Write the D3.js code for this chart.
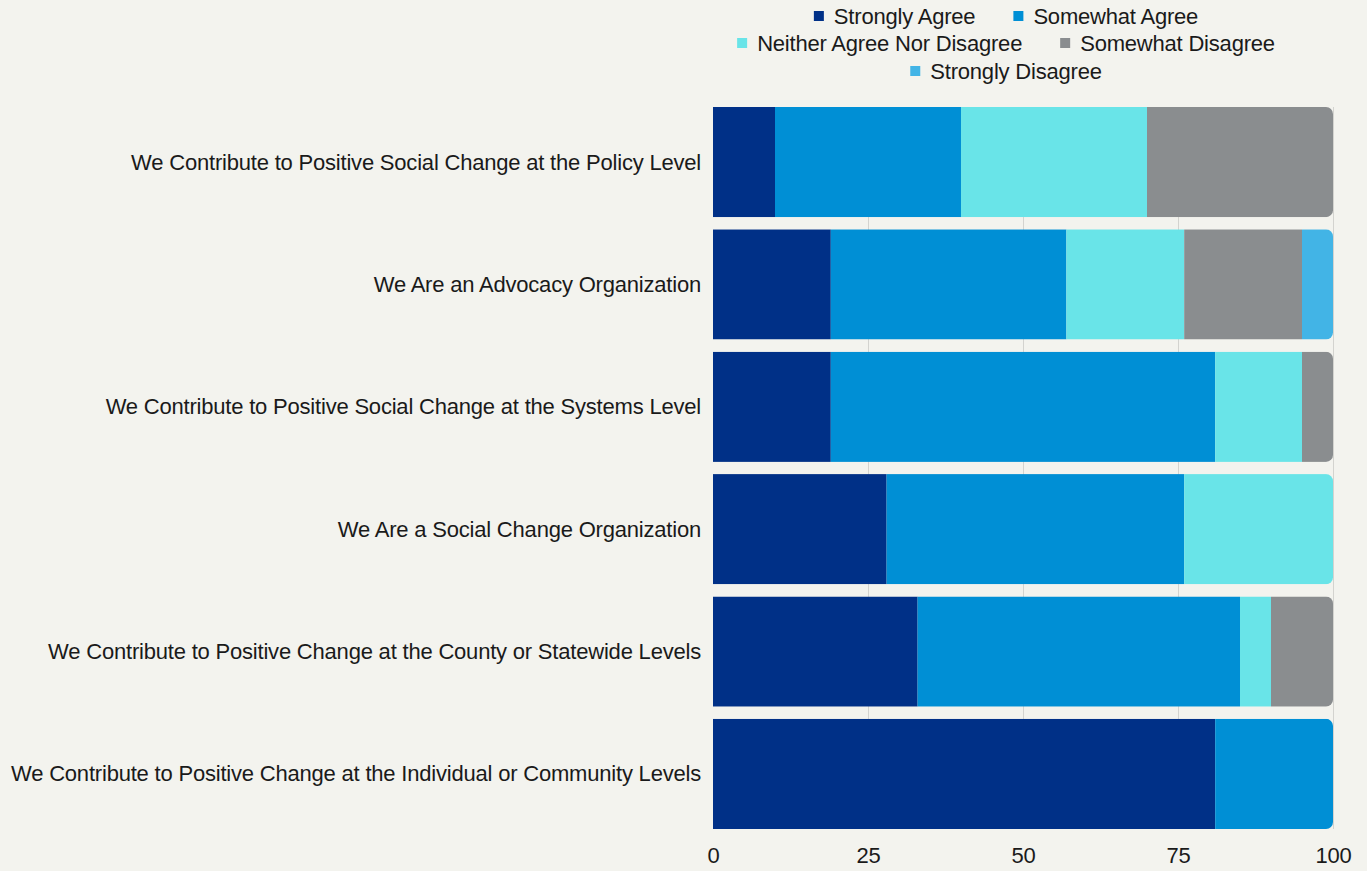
<!DOCTYPE html>
<html><head><meta charset="utf-8">
<script src="https://cdn.jsdelivr.net/npm/d3@7"></script>
<style>
html,body{margin:0;padding:0;background:#f3f3ee;}
svg{display:block;}
text{font-family:"Liberation Sans",Arial,sans-serif;fill:#1a1a1a;}
</style></head><body>
<svg id="chart" width="1367" height="871"></svg>
<script>
const categories = [
  "We Contribute to Positive Social Change at the Policy Level",
  "We Are an Advocacy Organization",
  "We Contribute to Positive Social Change at the Systems Level",
  "We Are a Social Change Organization",
  "We Contribute to Positive Change at the County or Statewide Levels",
  "We Contribute to Positive Change at the Individual or Community Levels"
];
const seriesNames = ["Strongly Agree","Somewhat Agree","Neither Agree Nor Disagree","Somewhat Disagree","Strongly Disagree"];
const stronglyAgree   = [10, 19, 19, 28, 33, 81];
const somewhatAgree   = [30, 38, 62, 48, 52, 19];
const neither         = [30, 19, 14, 24, 5, 0];
const somewhatDisagree= [30, 19, 5, 0, 10, 0];
const stronglyDisagree= [0, 5, 0, 0, 0, 0];
const tickValues = [0, 25, 50, 75, 100];
const colors = ["#003087","#008fd5","#69e4e8","#8a8d8f","#42b4e6"];

const seriesValues = [stronglyAgree, somewhatAgree, neither, somewhatDisagree, stronglyDisagree];
const rows = categories.map((c,i)=>{
  const o = {cat:c};
  seriesNames.forEach((s,j)=>o[s]=seriesValues[j][i]);
  return o;
});
const stacked = d3.stack().keys(seriesNames)(rows);

const svg = d3.select("#chart");
const W = 1367, H = 871;
const x = d3.scaleLinear().domain([0,100]).range([713, 1333]);
const y = d3.scaleBand().domain(categories).range([107, 829]).paddingInner(0.1).paddingOuter(0.0);
const FS = "22px", LS = "-0.2px";

// grid
svg.append("g").selectAll("line").data(tickValues.slice(1)).join("line")
  .attr("x1", d=>x(d)+0.5).attr("x2", d=>x(d)+0.5)
  .attr("y1", 107).attr("y2", 829)
  .attr("stroke","#d3d3cf").attr("stroke-width",1);

// clip paths per row
const defs = svg.append("defs");
categories.forEach((c,i)=>{
  defs.append("clipPath").attr("id","clip"+i).append("rect")
    .attr("x", x(0)-10).attr("y", y(c))
    .attr("width", x(100)-x(0)+10).attr("height", y.bandwidth())
    .attr("rx",7).attr("ry",7);
});

const g = svg.append("g");
stacked.forEach((layer,j)=>{
  layer.forEach((d,i)=>{
    if (d[1]-d[0] <= 0) return;
    g.append("rect")
      .attr("clip-path","url(#clip"+i+")")
      .attr("x", x(d[0])).attr("y", y(categories[i]))
      .attr("width", x(d[1])-x(d[0])).attr("height", y.bandwidth())
      .attr("fill", colors[j]);
  });
});

// category labels
svg.append("g").selectAll("text").data(categories).join("text")
  .attr("x", x(0)-12).attr("y", d=>y(d)+y.bandwidth()/2)
  .attr("text-anchor","end").attr("dominant-baseline","central")
  .style("font-size",FS).style("letter-spacing",LS)
  .text(d=>d);

// x axis labels
const axis = d3.axisBottom(x).tickValues(tickValues).tickSize(0).tickPadding(18);
const ag = svg.append("g").attr("transform",`translate(0,829)`).call(axis);
ag.select(".domain").remove();
ag.selectAll("text").style("font-size",FS).style("letter-spacing",LS).attr("fill","#1a1a1a").style("font-family","'Liberation Sans',Arial,sans-serif");

// legend
const legendRows = [[0,1],[2,3],[4]];
const legendY = [16, 43, 71];
const lg = svg.append("g");
legendRows.forEach((r,ri)=>{
  const row = lg.append("g");
  let cx = 0;
  r.forEach((si,k)=>{
    const item = row.append("g").attr("transform",`translate(${cx},0)`);
    item.append("rect").attr("x",0).attr("y",-5).attr("width",10).attr("height",10).attr("fill",colors[si]);
    const t = item.append("text").attr("x",20).attr("y",0).attr("dominant-baseline","central")
      .style("font-size",FS).style("letter-spacing",LS).text(seriesNames[si]);
    const w = t.node().getComputedTextLength();
    cx += 20 + w + 38;
  });
  const total = cx - 38;
  row.attr("transform",`translate(${1006 - total/2},${legendY[ri]})`);
});
</script>
</body></html>
